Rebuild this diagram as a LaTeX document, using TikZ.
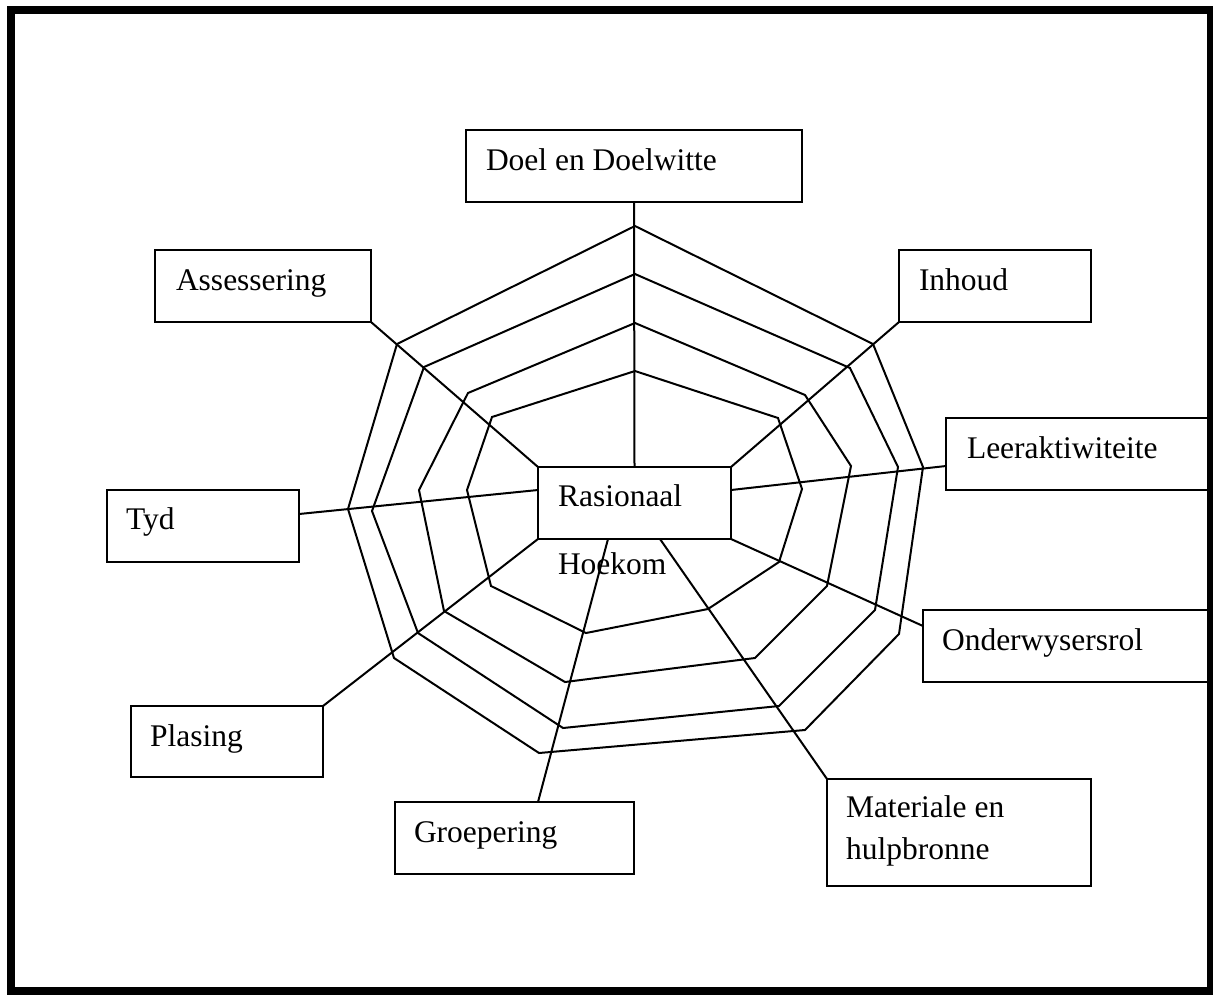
\documentclass[tikz,border=0pt]{standalone}
\usepackage{fontspec}
\setmainfont{Liberation Serif}
\begin{document}
\begin{tikzpicture}[x=1pt,y=-1pt,
  box/.style={draw, line width=2pt, rectangle, inner sep=0pt, outer sep=0pt, anchor=north west},
  lbl/.style={font=\fontsize{31.5}{42}\selectfont, inner sep=0pt, outer sep=0pt, anchor=base west},
  web/.style={line width=2pt, line join=miter},
  spoke/.style={line width=2pt}]
\useasboundingbox (0,0) rectangle (1213,994);

% boxes
\node[box, minimum width=336pt, minimum height=72pt] (doel) at (466,130) {};
\node[box, minimum width=216pt, minimum height=72pt] (ass) at (155,250) {};
\node[box, minimum width=192pt, minimum height=72pt] (inh) at (899,250) {};
\node[box, minimum width=265pt, minimum height=72pt] (leer) at (946,418) {};
\node[box, minimum width=192pt, minimum height=72pt] (tyd) at (107,490) {};
\node[box, minimum width=193pt, minimum height=72pt] (ras) at (538,467) {};
\node[box, minimum width=288pt, minimum height=72pt] (ond) at (923,610) {};
\node[box, minimum width=192pt, minimum height=71pt] (pla) at (131,706) {};
\node[box, minimum width=239pt, minimum height=72pt] (gro) at (395,802) {};
\node[box, minimum width=264pt, minimum height=107pt] (mat) at (827,779) {};

% labels
\node[lbl] (doelT) at ([xshift=20pt,yshift=-40pt]doel.north west) {Doel en Doelwitte};
\node[lbl] (assT) at ([xshift=21pt,yshift=-40pt]ass.north west) {Assessering};
\node[lbl] (inhT) at ([xshift=20pt,yshift=-40pt]inh.north west) {Inhoud};
\node[lbl] (leerT) at ([xshift=21pt,yshift=-40pt]leer.north west) {Leeraktiwiteite};
\node[lbl] (tydT) at ([xshift=19pt,yshift=-39pt]tyd.north west) {Tyd};
\node[lbl] (rasT) at ([xshift=20pt,yshift=-39pt]ras.north west) {Rasionaal};
\node[lbl] (hoeT) at ([xshift=20pt,yshift=-35pt]ras.south west) {Hoekom};
\node[lbl] (ondT) at ([xshift=19pt,yshift=-40pt]ond.north west) {Onderwysersrol};
\node[lbl] (plaT) at ([xshift=19pt,yshift=-40pt]pla.north west) {Plasing};
\node[lbl] (groT) at ([xshift=19pt,yshift=-40pt]gro.north west) {Groepering};
\node[lbl, align=left, anchor=north west] (matT) at ([xshift=19pt,yshift=-17pt]mat.north west) {Materiale en\\hulpbronne};

% web polygons
\draw[web] (635,226) -- (873,344) -- (923,467) -- (899,634) -- (805,730) -- (539,753) -- (394,658) -- (348,509) -- (397,344) -- cycle;
\draw[web] (635,274) -- (850,368) -- (898,467) -- (875,610) -- (779,706) -- (563,728) -- (418,633) -- (372,511) -- (424,367) -- cycle;
\draw[web] (635,323) -- (805,395) -- (851,466) -- (827,586) -- (755,658) -- (565,682) -- (444,611) -- (419,490) -- (468,393) -- cycle;
\draw[web] (635,371) -- (778,418) -- (802,489) -- (779,562) -- (708,609) -- (586,633) -- (491,586) -- (467,490) -- (492,417) -- cycle;

% spokes
\draw[spoke] (ras.north) -- (doel.south);
\draw[spoke] (ras.north east) -- (inh.south west);
\draw[spoke] (ras.north west) -- (ass.south east);
\draw[spoke] ([yshift=-23pt]ras.north east) -- ([yshift=-48pt]leer.north west);
\draw[spoke] ([yshift=-23pt]ras.north west) -- ([yshift=-24pt]tyd.north east);
\draw[spoke] (ras.south east) -- ([yshift=-16pt]ond.north west);
\draw[spoke] ([xshift=122pt]ras.south west) -- (mat.north west);
\draw[spoke] ([xshift=70pt]ras.south west) -- ([xshift=143pt]gro.north west);
\draw[spoke] (ras.south west) -- (pla.north east);

% outer frame
\draw[line width=8pt] (11,10) rectangle (1211,991);
\end{tikzpicture}
\end{document}
